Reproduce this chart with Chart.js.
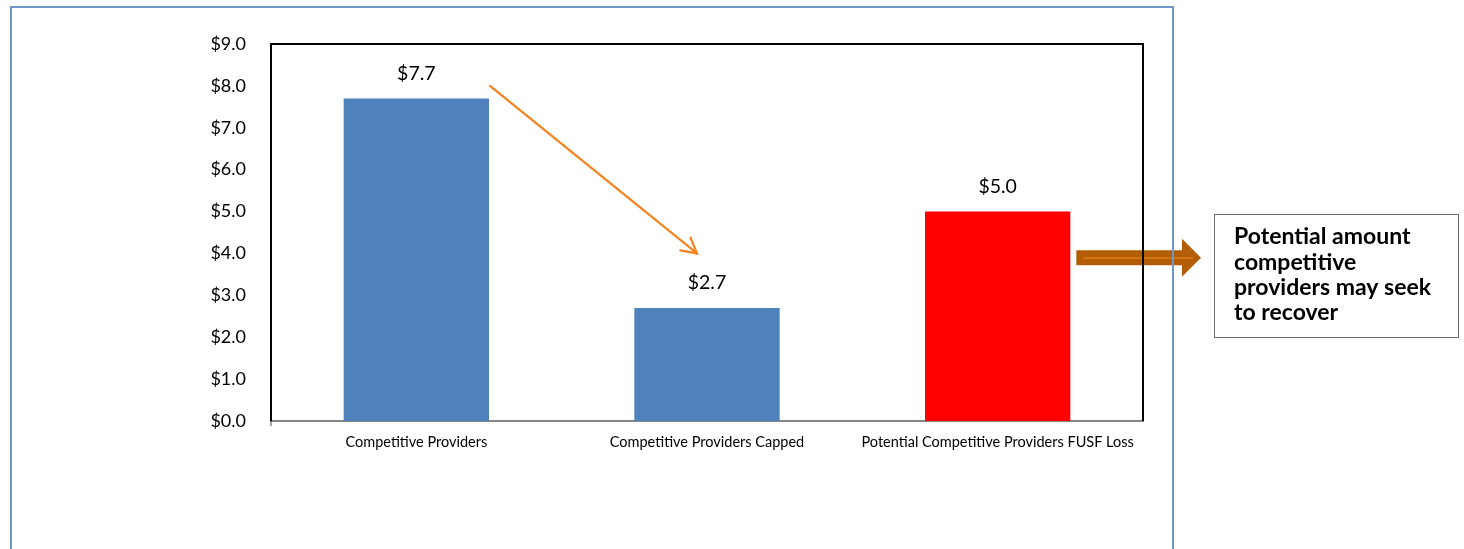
<!DOCTYPE html>
<html>
<head>
<meta charset="utf-8">
<script src="https://cdn.jsdelivr.net/npm/chart.js@4.4.1/dist/chart.umd.min.js"></script>
<style>
  html, body { margin: 0; padding: 0; background: #ffffff; }
  #wrap { width: 1464px; height: 549px; }
</style>
</head>
<body>
<div id="wrap"><canvas id="c" width="1464" height="549"></canvas></div>
<script>
// Funding amounts, in dollars (millions)
const categories = [
  'Competitive Providers',
  'Competitive Providers Capped',
  'Potential Competitive Providers FUSF Loss'
];
const values = [7.7, 2.7, 5.0];
const barColors = ['#4f81bd', '#4f81bd', '#ff0000'];
const yMin = 0;
const yMax = 9;
const yStep = 1;
const calloutLines = ['Potential amount', 'competitive', 'providers may seek', 'to recover'];
// Where the orange trend arrow starts and ends, in axis values
const trendFrom = 8.0;
const trendTo = 4.0;
const lossArrowLevel = 3.9;

const FONT = 'Lato, "Open Sans", "Liberation Sans", sans-serif';
const money = v => '$' + Number(v).toFixed(1);

const decorations = {
  id: 'decorations',
  afterDatasetsDraw(chart) {
    const ctx = chart.ctx;
    const meta = chart.getDatasetMeta(0);
    ctx.save();
    ctx.fillStyle = '#000';
    ctx.font = '19.5px ' + FONT;
    ctx.textAlign = 'center';
    ctx.textBaseline = 'middle';
    meta.data.forEach((bar, i) => {
      ctx.fillText(money(values[i]), bar.x, bar.y - 25);
    });
    ctx.restore();
  },
  afterDraw(chart) {
    const ctx = chart.ctx;
    const a = chart.chartArea;
    const xs = chart.scales.x;
    const ys = chart.scales.y;
    const meta = chart.getDatasetMeta(0);
    ctx.save();

    // Block arrow pointing from the loss bar to the callout
    const lossBar = meta.data[2];
    const ay = ys.getPixelForValue(lossArrowLevel);
    const ax0 = lossBar.x + lossBar.width / 2 + 6;
    const ax1 = 1201;
    const headX = ax1 - 19;
    ctx.fillStyle = '#b35d07';
    ctx.beginPath();
    ctx.moveTo(ax0, ay - 7.5);
    ctx.lineTo(headX, ay - 7.5);
    ctx.lineTo(headX, ay - 19);
    ctx.lineTo(ax1, ay);
    ctx.lineTo(headX, ay + 19);
    ctx.lineTo(headX, ay + 7.5);
    ctx.lineTo(ax0, ay + 7.5);
    ctx.closePath();
    ctx.fill();
    ctx.strokeStyle = '#f08a1c';
    ctx.lineWidth = 1;
    ctx.beginPath();
    ctx.moveTo(ax0 + 7, ay + 0.5);
    ctx.lineTo(ax1 - 8, ay + 0.5);
    ctx.stroke();

    // Plot frame: top and right edges
    ctx.strokeStyle = '#000';
    ctx.lineWidth = 2;
    ctx.beginPath();
    ctx.moveTo(a.left, a.top);
    ctx.lineTo(a.right, a.top);
    ctx.lineTo(a.right, a.bottom);
    ctx.stroke();
    // small tick under the axis origin
    ctx.strokeStyle = '#868686';
    ctx.lineWidth = 1.5;
    ctx.beginPath();
    ctx.moveTo(a.left, a.bottom);
    ctx.lineTo(a.left, a.bottom + 5);
    ctx.stroke();

    // Outer chart border
    ctx.strokeStyle = '#6f97c9';
    ctx.lineWidth = 2;
    ctx.beginPath();
    ctx.moveTo(11, 560);
    ctx.lineTo(11, 7);
    ctx.lineTo(1173, 7);
    ctx.lineTo(1173, 560);
    ctx.stroke();

    // Orange arrow from the first bar down towards the capped bar
    const b0 = meta.data[0];
    const sx = b0.x + b0.width / 2 + 1;
    const sy = ys.getPixelForValue(trendFrom);
    const ex = xs.getPixelForValue(1) - 10;
    const ey = ys.getPixelForValue(trendTo);
    ctx.strokeStyle = '#f5831f';
    ctx.lineWidth = 2.2;
    ctx.lineCap = 'round';
    ctx.beginPath();
    ctx.moveTo(sx, sy);
    ctx.lineTo(ex, ey);
    ctx.stroke();
    const ang = Math.atan2(ey - sy, ex - sx);
    const hl = 17, spread = 0.5;
    ctx.beginPath();
    ctx.moveTo(ex - hl * Math.cos(ang - spread), ey - hl * Math.sin(ang - spread));
    ctx.lineTo(ex, ey);
    ctx.lineTo(ex - hl * Math.cos(ang + spread), ey - hl * Math.sin(ang + spread));
    ctx.stroke();

    // Callout box
    ctx.fillStyle = '#fff';
    ctx.fillRect(1214.5, 214.5, 244, 123);
    ctx.strokeStyle = '#6d6d6d';
    ctx.lineWidth = 1;
    ctx.strokeRect(1214.5, 214.5, 244, 123);
    ctx.fillStyle = '#000';
    ctx.font = 'bold 23px ' + FONT;
    ctx.textAlign = 'left';
    ctx.textBaseline = 'middle';
    calloutLines.forEach((t, i) => ctx.fillText(t, 1234, 237 + i * 25.3));

    ctx.restore();
  }
};

new Chart(document.getElementById('c'), {
  type: 'bar',
  data: {
    labels: categories,
    datasets: [{
      data: values,
      backgroundColor: barColors,
      borderWidth: 0,
      barPercentage: 0.5,
      categoryPercentage: 1.0
    }]
  },
  options: {
    responsive: false,
    animation: false,
    devicePixelRatio: 1,
    layout: { padding: { top: 44, right: 321, left: 0, bottom: 0 } },
    plugins: { legend: { display: false }, tooltip: { enabled: false } },
    scales: {
      x: {
        grid: { display: false, drawTicks: false },
        border: { display: true, color: '#868686', width: 2 },
        ticks: { color: '#000', font: { size: 14.5, family: FONT }, padding: 13, maxRotation: 0, autoSkip: false },
        afterFit(s) { s.height = 128; }
      },
      y: {
        min: yMin,
        max: yMax,
        grid: { display: false, drawTicks: false },
        border: { display: true, color: '#000', width: 2 },
        ticks: {
          stepSize: yStep,
          color: '#000',
          font: { size: 18, family: FONT },
          padding: 25,
          callback: v => money(v)
        },
        afterFit(s) { s.width = 271; }
      }
    }
  },
  plugins: [decorations]
});
</script>
</body>
</html>
